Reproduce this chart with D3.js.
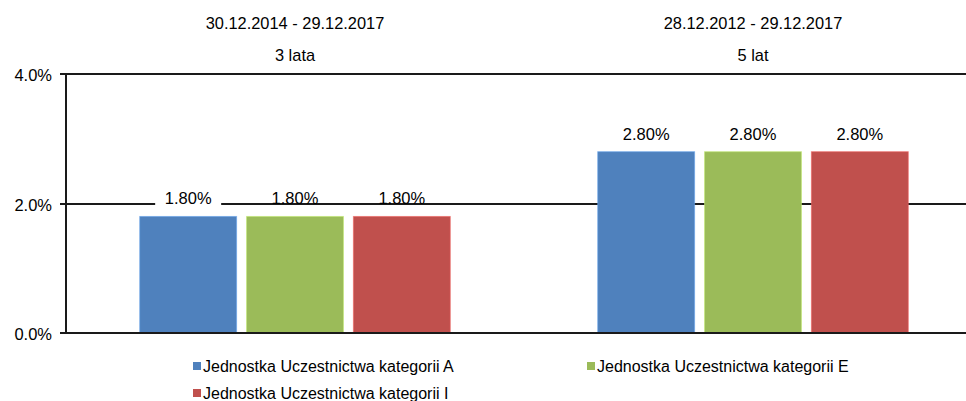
<!DOCTYPE html>
<html>
<head>
<meta charset="utf-8">
<script src="https://cdn.jsdelivr.net/npm/d3@7"></script>
<style>
  body { margin: 0; background: #fff; }
  text { font-family: "Liberation Sans", Arial, sans-serif; fill: #000; }
</style>
</head>
<body>
<div id="chart"></div>
<script>
const periods = ["30.12.2014 - 29.12.2017", "28.12.2012 - 29.12.2017"];
const periodNames = ["3 lata", "5 lat"];
const series = [
  "Jednostka Uczestnictwa kategorii A",
  "Jednostka Uczestnictwa kategorii E",
  "Jednostka Uczestnictwa kategorii I"
];
const valuesA = [0.018, 0.028];
const valuesE = [0.018, 0.028];
const valuesI = [0.018, 0.028];
const yTicks = [0, 0.02, 0.04];
const colors = ["#4f81bd", "#9bbb59", "#c0504d"];

(function() {
  const width = 966;
  const height = 401;
  const plot = { left: 66, top: 74, bottom: 333, right: 982 };

  const svg = d3.select("#chart")
    .append("svg")
    .attr("width", width)
    .attr("height", height);

  const allValues = [valuesA, valuesE, valuesI];
  const data = periods.map((p, i) => ({
    period: p,
    name: periodNames[i],
    vals: series.map((s, j) => ({ s, j, v: allValues[j][i] }))
  }));

  const x0 = d3.scaleBand()
    .domain(periods)
    .range([plot.left, plot.right]);

  const x1 = d3.scaleBand()
    .domain(series)
    .range([0, x0.bandwidth()])
    .paddingInner(0.093)
    .paddingOuter(0.69);

  const y = d3.scaleLinear()
    .domain([0, 0.04])
    .range([plot.bottom, plot.top]);

  // Grid lines (4% and 2%)
  svg.append("g")
    .selectAll("line")
    .data(yTicks.filter(d => d > 0))
    .join("line")
    .attr("x1", plot.left - 6)
    .attr("x2", width)
    .attr("y1", d => Math.round(y(d)))
    .attr("y2", d => Math.round(y(d)))
    .attr("stroke", "#1a1a1a")
    .attr("stroke-width", 2);

  // Bars
  const groups = svg.append("g")
    .selectAll("g")
    .data(data)
    .join("g")
    .attr("transform", d => `translate(${x0(d.period)},0)`);

  groups.selectAll("rect")
    .data(d => d.vals)
    .join("rect")
    .attr("x", d => x1(d.s))
    .attr("y", d => y(d.v))
    .attr("width", x1.bandwidth())
    .attr("height", d => y(0) - y(d.v))
    .attr("fill", d => colors[d.j])
    .attr("stroke", d => d3.color(colors[d.j]).brighter(0.6))
    .attr("stroke-opacity", 0.6)
    .attr("stroke-width", 1);

  // Value labels
  groups.each(function(gd, gi) {
    const g = d3.select(this);
    gd.vals.forEach((d, k) => {
      const cx = x1(d.s) + x1.bandwidth() / 2;
      if (gi === 0 && k === 0) {
        g.append("rect")
          .attr("x", cx - 33)
          .attr("y", y(d.v) - 26)
          .attr("width", 66)
          .attr("height", 20)
          .attr("fill", "#fff");
      }
      g.append("text")
        .attr("x", cx)
        .attr("y", y(d.v) - 12)
        .attr("text-anchor", "middle")
        .attr("font-size", "16.5px")
        .text(d3.format(".2%")(d.v));
    });
  });

  // Axes lines
  svg.append("line")
    .attr("x1", plot.left).attr("x2", plot.left)
    .attr("y1", plot.top - 1).attr("y2", plot.bottom + 1)
    .attr("stroke", "#1a1a1a").attr("stroke-width", 2);

  svg.append("line")
    .attr("x1", plot.left - 6).attr("x2", width)
    .attr("y1", plot.bottom).attr("y2", plot.bottom)
    .attr("stroke", "#1a1a1a").attr("stroke-width", 2);

  // Y tick labels
  svg.append("g")
    .selectAll("text")
    .data(yTicks)
    .join("text")
    .attr("x", 52)
    .attr("y", d => y(d) + 7)
    .attr("text-anchor", "end")
    .attr("font-size", "16.5px")
    .text(d => d3.format(".1%")(d));

  // Category labels at top
  const cats = svg.append("g")
    .selectAll("g")
    .data(data)
    .join("g")
    .attr("transform", d => `translate(${x0(d.period) + x0.bandwidth() / 2},0)`);

  cats.append("text")
    .attr("y", 29)
    .attr("text-anchor", "middle")
    .attr("font-size", "16.4px")
    .text(d => d.period);

  cats.append("text")
    .attr("y", 61)
    .attr("text-anchor", "middle")
    .attr("font-size", "16.4px")
    .text(d => d.name);

  // Legend
  const legendPos = [[193, 372], [587, 372], [193, 399]];
  const legend = svg.append("g")
    .selectAll("g")
    .data(series)
    .join("g")
    .attr("transform", (d, i) => `translate(${legendPos[i][0]},${legendPos[i][1]})`);

  legend.append("rect")
    .attr("x", 0)
    .attr("y", -10)
    .attr("width", 8)
    .attr("height", 8)
    .attr("fill", (d, i) => colors[i]);

  legend.append("text")
    .attr("x", 10)
    .attr("font-size", "16px")
    .text(d => d);
})();
</script>
</body>
</html>
